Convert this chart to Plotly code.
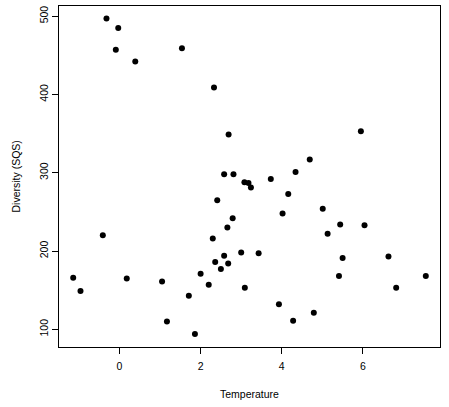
import plotly.graph_objects as go

# temperature vs diversity
temperature = [-0.32, -0.03, -0.09, 0.39, 1.54, 2.33, -0.41, -1.14, -0.96, 0.18,
               1.05, 1.17, 1.71, 1.86, 2.00, 2.20, 2.30, 2.36, 2.50, 2.58,
               2.41, 2.69, 4.69, 2.58, 2.81, 4.34, 3.08, 3.18, 3.24, 3.73,
               4.16, 4.02, 2.79, 2.66, 3.00, 3.43, 2.68, 3.09, 3.93, 4.79,
               4.28, 5.01, 5.44, 6.04, 5.13, 5.50, 6.63, 5.41, 7.55, 6.82,
               5.95]
diversity = [497, 485, 457, 442, 459, 409, 220, 166, 149, 165,
             161, 110, 143, 94, 171, 157, 216, 186, 177, 194,
             265, 349, 317, 298, 298, 301, 288, 287, 281, 292,
             273, 248, 242, 230, 198, 197, 184, 153, 132, 121,
             111, 254, 234, 233, 222, 191, 193, 168, 168, 153,
             353]

x_ticks = [0, 2, 4, 6]
y_ticks = [100, 200, 300, 400, 500]

fig = go.Figure()
fig.add_trace(go.Scatter(x=temperature, y=diversity, mode="markers",
                         marker=dict(color="black", size=6),
                         showlegend=False))

axis_style = dict(showline=True, linecolor="black", linewidth=1, mirror=True,
                  ticks="outside", ticklen=6, tickcolor="black", tickwidth=1,
                  showgrid=False, zeroline=False, automargin=False,
                  tickfont=dict(size=10.5, color="black"))

fig.update_layout(
    width=449, height=407,
    margin=dict(l=59, r=9, t=6, b=60),
    plot_bgcolor="white", paper_bgcolor="white",
    font=dict(family="Liberation Sans, Arial, sans-serif", size=10.5, color="black"),
    xaxis=dict(range=[-1.49, 7.90], tickvals=x_ticks, ticklabelstandoff=3,
               **axis_style),
    yaxis=dict(range=[77.4, 513], tickvals=y_ticks, tickangle=-90, **axis_style),
)

# axis titles placed like R's mtext lines
fig.add_annotation(text="Temperature", xref="paper", yref="paper",
                   x=0.5, y=0, yshift=-47, showarrow=False,
                   xanchor="center", yanchor="middle")
fig.add_annotation(text="Diversity (SQS)", xref="paper", yref="paper",
                   x=0, y=0.5, xshift=-44, showarrow=False, textangle=-90,
                   xanchor="center", yanchor="middle")

# drop the page's default body margin so the figure sits at the window corner
fig.write_html("out.html", config={"displayModeBar": False},
               post_script="document.body.style.margin='0';")
